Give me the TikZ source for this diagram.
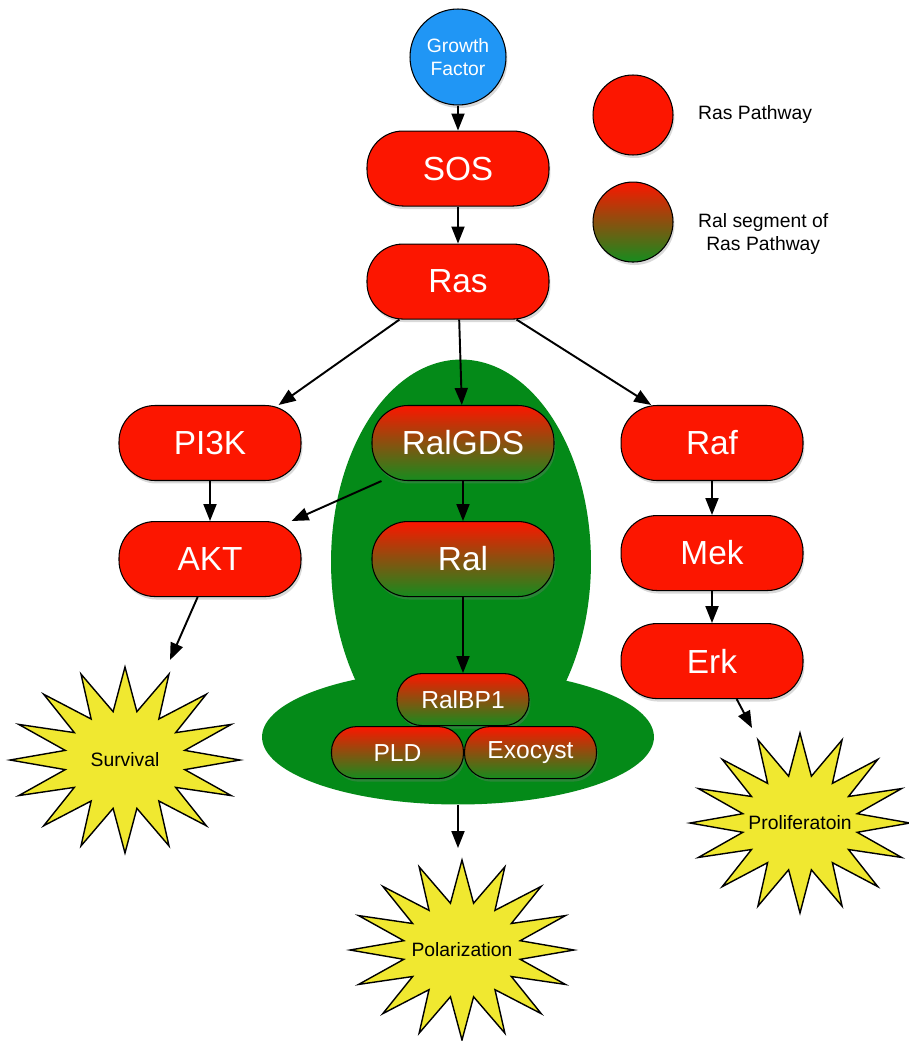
\documentclass[tikz,border=0pt]{standalone}
\usepackage{fontspec}
\setmainfont{Liberation Sans}
\usetikzlibrary{positioning,shapes.geometric,arrows.meta,shadows}
\definecolor{rasred}{RGB}{252,22,0}
\definecolor{ralgreen}{RGB}{22,140,30}
\definecolor{blobgreen}{RGB}{4,138,24}
\definecolor{gfblue}{RGB}{32,150,245}
\definecolor{burstyellow}{RGB}{240,232,48}

% starburst: name, x, y, x radius, y radius, label
\newcommand{\burst}[6]{%
  \draw[burstline] plot[samples=33,domain=0:32,variable=\k]
    ({#2+#4*(1-0.47*mod(round(\k),2))*cos(90+11.25*\k)},
     {#3-#5*(1-0.47*mod(round(\k),2))*sin(90+11.25*\k)}) -- cycle;
  \node[font=\fontsize{11}{13}\selectfont] (#1) at (#2,#3) {#6};}

\begin{document}
\begin{tikzpicture}[x=0.02cm, y=-0.02cm,
  pill/.style={draw=black,line width=0.6pt,rounded corners=0.72cm,
               minimum width=3.64cm,minimum height=1.5cm,text=white,
               font=\fontsize{19}{22}\selectfont,
               drop shadow={opacity=0.3,shadow xshift=0.03cm,shadow yshift=-0.06cm}},
  raspill/.style={pill,fill=rasred},
  ralpill/.style={pill,top color=rasred,bottom color=ralgreen},
  smallpill/.style={ralpill,minimum width=2.64cm,minimum height=1.04cm,
               rounded corners=0.5cm,font=\fontsize{14}{16}\selectfont},
  keydot/.style={circle,draw=black,line width=0.6pt,minimum size=1.6cm,
               drop shadow={opacity=0.3,shadow xshift=0.03cm,shadow yshift=-0.06cm}},
  link/.style={-{Triangle[length=0.34cm,width=0.26cm]},line width=1.1pt},
  burstline/.style={draw=black,line width=0.8pt,fill=burstyellow}
]
  \useasboundingbox (0,0) rectangle (909,1041);

  % green Ral region
  \node[ellipse,fill=blobgreen,minimum width=5.2cm,minimum height=8.1cm] (blobtop) at (461,562) {};
  \node[ellipse,fill=blobgreen,minimum width=7.84cm,minimum height=2.7cm] (blobbase) at (458,737) {};

  \node[circle,draw=black,line width=0.6pt,fill=gfblue,minimum size=1.92cm,text=white,
        align=center,font=\fontsize{11}{13}\selectfont,
        drop shadow={opacity=0.3,shadow xshift=0.03cm,shadow yshift=-0.06cm}] (gf) at (458,57) {Growth\\Factor};
  \node[raspill, below=0.5cm of gf] (sos) {SOS};
  \node[raspill, below=0.74cm of sos] (ras) {Ras};

  \node[ralpill] (ralgds) at (463,443) {RalGDS};
  \node[raspill, left=1.4cm of ralgds] (pik) {PI3K};
  \node[raspill, right=1.32cm of ralgds] (raf) {Raf};
  \node[raspill, below=0.8cm of pik] (akt) {AKT};
  \node[ralpill, below=0.8cm of ralgds] (ral) {Ral};
  \node[raspill, below=0.68cm of raf] (mek) {Mek};
  \node[raspill, below=0.64cm of mek] (erk) {Erk};

  \node[smallpill, below=1.52cm of ral] (ralbp) {RalBP1};
  \node[smallpill, below left=0cm and -0.02cm of ralbp.south] (pld) {PLD};
  \node[smallpill, below right=0cm and 0.02cm of ralbp.south] (exo) {Exocyst};

  % legend
  \node[keydot,fill=rasred] (keyras) at (633,115) {};
  \node[keydot,top color=rasred,bottom color=ralgreen, below=0.52cm of keyras] (keyral) {};
  \node[right=0.37cm of keyras,font=\fontsize{11}{13}\selectfont] (keyrastext) {Ras Pathway};
  \node[right=0.37cm of keyral,yshift=-0.24cm,align=center,
        font=\fontsize{11}{13}\selectfont] (keyraltext) {Ral segment of\\Ras Pathway};

  % outcomes
  \burst{surv}{125}{760}{115}{93}{Survival}
  \burst{polar}{462}{950}{112}{90}{Polarization}
  \burst{prolif}{800}{823}{110}{90}{Proliferatoin}
  \coordinate (survtip) at (170,660);
  \coordinate (polartip) at (458,848);
  \coordinate (proliftip) at (752,728);

  \draw[link] (gf) -- (sos);
  \draw[link] (sos) -- (ras);
  \draw[link] (ras.213) -- (pik.29);
  \draw[link] (ras) -- (ralgds);
  \draw[link] (ras.-33) -- (raf.148);
  \draw[link] (pik) -- (akt);
  \draw[link] (ralgds.205) -- (akt.25);
  \draw[link] (ralgds) -- (ral);
  \draw[link] (ral) -- (ralbp);
  \draw[link] (raf) -- (mek);
  \draw[link] (mek) -- (erk);
  \draw[link] (akt.252) -- (survtip);
  \draw[link] (erk.-57) -- (proliftip);
  \draw[link] (blobbase.south) -- (polartip);
\end{tikzpicture}
\end{document}
